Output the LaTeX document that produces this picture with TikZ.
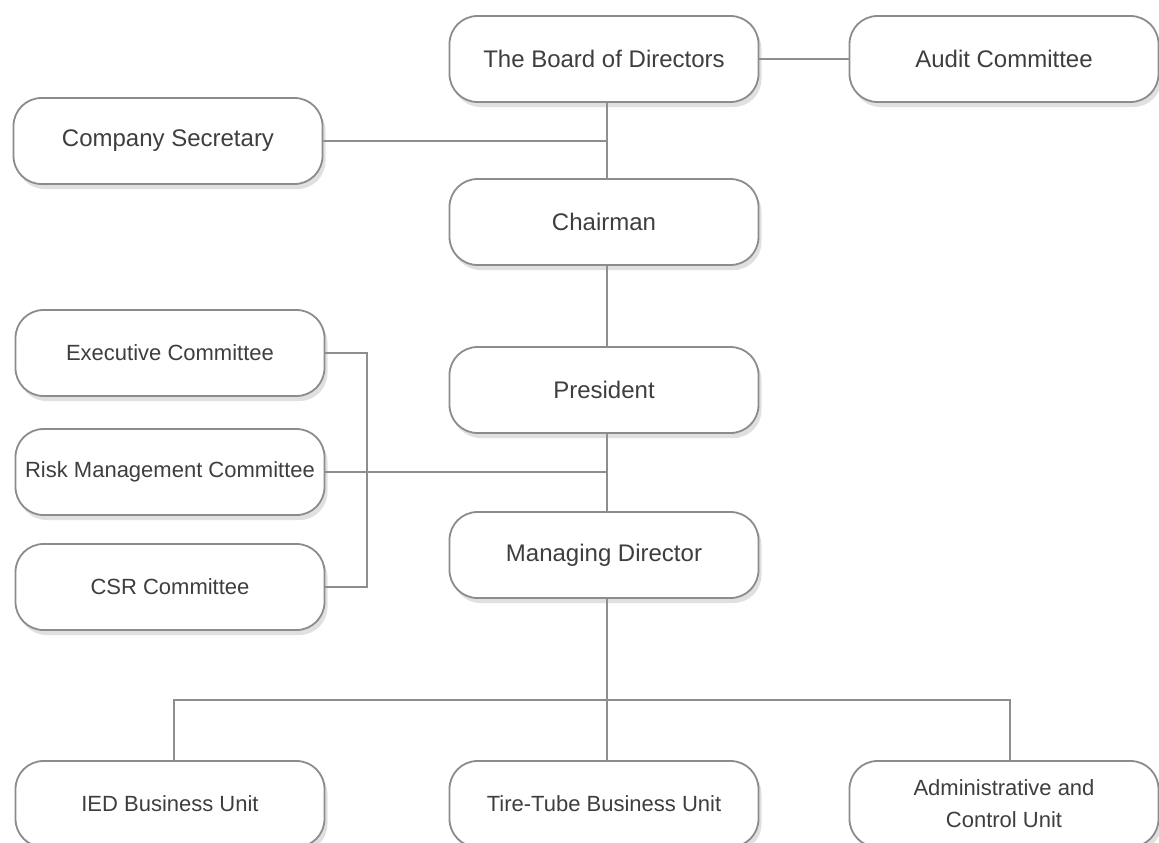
\documentclass[tikz,border=0pt]{standalone}
\usepackage{fontspec}
\setmainfont{Liberation Sans}
\usetikzlibrary{shadows}
\definecolor{txt}{HTML}{3E3E3E}
\definecolor{edge}{HTML}{8C8C8C}
\definecolor{wire}{HTML}{8E8E8E}
\tikzset{
  orgbox/.style={draw=edge, line width=1.8pt, fill=white, rounded corners=28pt,
    minimum width=309pt, minimum height=86pt, inner sep=0pt, text=txt,
    font=\fontsize{22}{32}\selectfont, align=center,
    drop shadow={opacity=0.2, shadow xshift=3pt, shadow yshift=-5pt, fill=black!60}},
  bigbox/.style={orgbox, font=\fontsize{24}{32}\selectfont},
  wireline/.style={draw=wire, line width=1.8pt}
}
\begin{document}
\begin{tikzpicture}[x=1pt,y=-1pt]
\useasboundingbox (0,0) rectangle (1159,843);
\node[bigbox] (board) at (604,59) {The Board of Directors};
\node[bigbox] (audit) at (1004,59) {Audit Committee};
\node[bigbox] (sec) at (168,141) {Company Secretary};
\node[bigbox] (chair) at (604,222) {Chairman};
\node[bigbox] (pres) at (604,390) {President};
\node[orgbox] (exec) at (170,353) {Executive Committee};
\node[orgbox] (risk) at (170,472) {Risk Management Committee};
\node[orgbox] (csr) at (170,587) {CSR Committee};
\node[bigbox] (md) at (604,555) {Managing Director};
\node[orgbox] (ied) at (170,804) {IED Business Unit};
\node[orgbox] (tire) at (604,804) {Tire-Tube Business Unit};
\node[orgbox] (admin) at (1004,804) {Administrative and\\Control Unit};
\coordinate (spine) at (607,0);
\coordinate (brk) at (367,0);
\coordinate (bus) at (0,700);
\coordinate (lt) at (174,0);
\coordinate (rt) at (1010,0);
\draw[wireline] (board.east) -- (audit.west);
\draw[wireline] (board.south -| spine) -- (chair.north -| spine);
\draw[wireline] (sec.east) -- (sec.east -| spine);
\draw[wireline] (chair.south -| spine) -- (pres.north -| spine);
\draw[wireline] (pres.south -| spine) -- (md.north -| spine);
\draw[wireline] (risk.east) -- (risk.east -| spine);
\draw[wireline] (exec.east) -- (exec.east -| brk) -- (csr.east -| brk) -- (csr.east);
\draw[wireline] (md.south -| spine) -- (bus -| spine);
\draw[wireline] (ied.north -| lt) -- (bus -| lt) -- (bus -| rt) -- (admin.north -| rt);
\draw[wireline] (bus -| spine) -- (tire.north -| spine);
\end{tikzpicture}
\end{document}
